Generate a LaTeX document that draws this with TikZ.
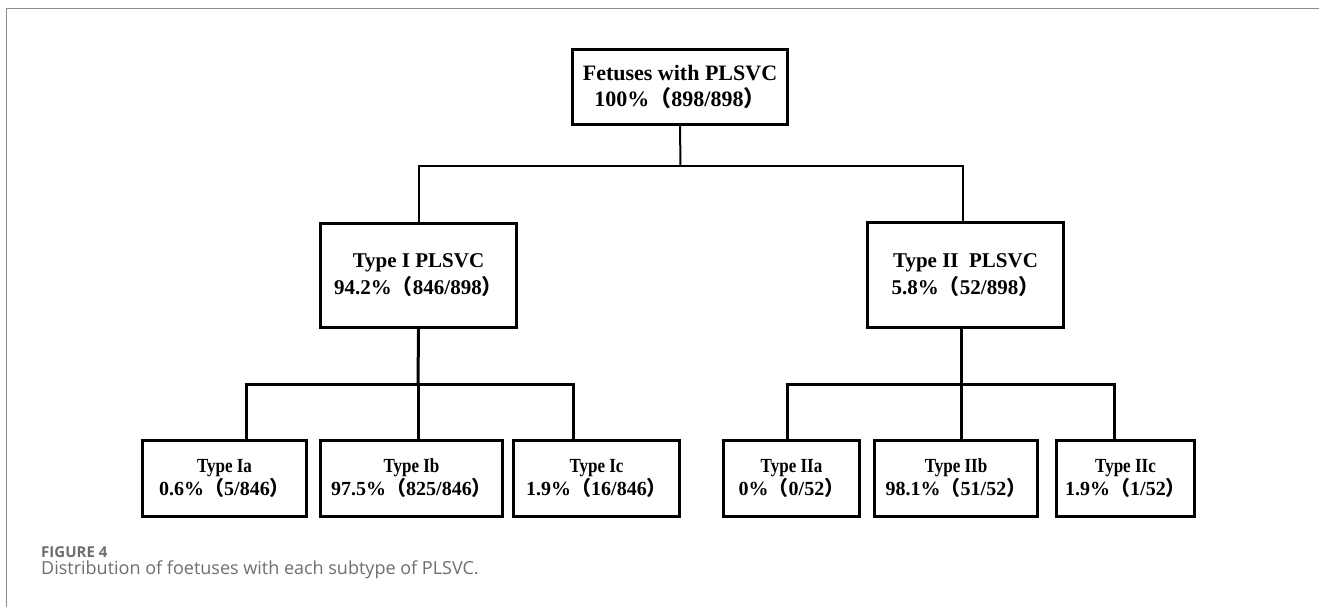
\documentclass[tikz,border=0pt]{standalone}
\usepackage{fontspec}
\setmainfont{Liberation Serif}
\newfontfamily\cjk{Noto Sans CJK SC}
\newfontfamily\capfont{Open Sans}
\newcommand{\lp}{{\cjk （}}
\newcommand{\rp}{{\cjk ）}}
\newcommand{\tp}[1]{\scalebox{0.85}[1]{#1}}
\definecolor{framegray}{HTML}{8A8A8A}
\definecolor{capgray}{HTML}{6D6E71}
\tikzset{
  bigbox/.style={draw, line width=3pt, inner sep=0pt, align=center,
    font=\fontsize{21}{27}\selectfont\bfseries},
  subbox/.style={draw, line width=3.5pt, inner sep=0pt, align=center,
    minimum height=76, font=\fontsize{20}{23}\selectfont\bfseries},
  link/.style={line width=3pt}
}
\begin{document}
\begin{tikzpicture}[x=1pt, y=-1pt]

  \useasboundingbox (0,0) rectangle (1319,607);

  % frame of the figure
  \draw[framegray, line width=1.5pt] (6.5,607) -- (6.5,8.5) -- (1319,8.5);

  % top level
  \node[bigbox, minimum width=215, minimum height=75,
    font=\fontsize{22}{26.5}\selectfont\bfseries] (all) at (680,87)
    {Fetuses with PLSVC\\100\%\lp 898/898\rp};

  % second level
  \node[bigbox, minimum width=196, minimum height=104] (typeI) at (418.5,275.5)
    {Type I PLSVC\\94.2\%\lp 846/898\rp};
  \node[bigbox, minimum width=196, minimum height=105] (typeII) at (965.5,275)
    {Type II\ \ PLSVC\\5.8\%\lp 52/898\rp};

  % third level
  \node[subbox, minimum width=164] (Ia) at (224.5,478.5)
    {\tp{Type Ia}\\0.6\%\lp 5/846\rp};
  \node[subbox, minimum width=182] (Ib) at (411.5,478.5)
    {\tp{Type Ib}\\97.5\%\lp 825/846\rp};
  \node[subbox, minimum width=166] (Ic) at (596.5,478.5)
    {\tp{Type Ic}\\1.9\%\lp 16/846\rp};
  \node[subbox, minimum width=136] (IIa) at (791.5,478.5)
    {\tp{Type IIa}\\0\%\lp 0/52\rp};
  \node[subbox, minimum width=163] (IIb) at (956,478.5)
    {\tp{Type IIb}\\98.1\%\lp 51/52\rp};
  \node[subbox, minimum width=138] (IIc) at (1125.5,478.5)
    {\tp{Type IIc}\\1.9\%\lp 1/52\rp};

  % connectors
  \coordinate (j0) at (680.5,166);
  \coordinate (j1) at (418,384);
  \coordinate (j2) at (961,384);

  \draw[link, line width=2pt] (all.south) -- (j0);
  \draw[link, line width=2pt] (typeI.north) |- (j0) -| ([xshift=-3]typeII.north);

  \draw[link] (typeI.south) -- (j1);
  \draw[link] ([xshift=21.5]Ia.north) |- (j1) -| ([xshift=-23.5]Ic.north);
  \draw[link] (j1) -- ([xshift=6.5]Ib.north);

  \draw[link] ([xshift=-4.5]typeII.south) -- (j2);
  \draw[link] ([xshift=-4.5]IIa.north) |- (j2) -| ([xshift=-11.5]IIc.north);
  \draw[link] (j2) -- ([xshift=5]IIb.north);

  % caption
  \node[anchor=base west, inner sep=0pt, capgray,
    font=\capfont\fontsize{15}{18}\selectfont\bfseries] (fig) at (41,557) {FIGURE 4};
  \node[anchor=base west, inner sep=0pt, capgray,
    font=\capfont\fontsize{18}{21}\selectfont] (cap) at (41,574)
    {Distribution of foetuses with each subtype of PLSVC.};

\end{tikzpicture}
\end{document}
